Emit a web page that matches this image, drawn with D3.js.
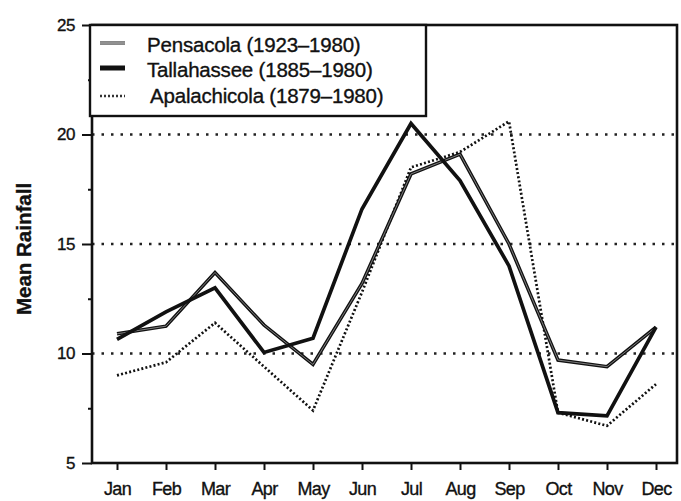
<!DOCTYPE html>
<html>
<head>
<meta charset="utf-8">
<script src="https://cdn.jsdelivr.net/npm/d3@7"></script>
<style>
  html, body { margin: 0; padding: 0; background: #fff; }
  svg { display: block; }
  text { font-family: "Liberation Sans", Arial, Helvetica, sans-serif; fill: #111; stroke: #111; stroke-width: 0.35px; }
</style>
</head>
<body>
<svg id="chart" width="681" height="501"></svg>
<script>
// Mean monthly rainfall at three Florida panhandle stations
const months = ["Jan", "Feb", "Mar", "Apr", "May", "Jun", "Jul", "Aug", "Sep", "Oct", "Nov", "Dec"];
const pensacola    = [10.9, 11.25, 13.7, 11.3, 9.5, 13.2, 18.2, 19.1, 15.0, 9.7, 9.4, 11.2];
const tallahassee  = [10.65, 11.9, 13.0, 10.05, 10.7, 16.6, 20.5, 17.9, 14.0, 7.3, 7.15, 11.2];
const apalachicola = [9.0, 9.6, 11.4, 9.4, 7.4, 12.8, 18.5, 19.2, 20.6, 7.3, 6.7, 8.6];
const seriesNames  = ["Pensacola (1923\u20131980)", "Tallahassee (1885\u20131980)", "Apalachicola (1879\u20131980)"];
const yMajorTicks  = [5, 10, 15, 20, 25];
const yMinorTicks  = [7.5, 12.5, 17.5, 22.5];
const gridValues   = [10, 15, 20];
const yTitle = "Mean Rainfall";

const svg = d3.select("#chart");
const frame = { left: 92, right: 677, top: 25, bottom: 463 };

const x = d3.scalePoint().domain(months).range([117, 656]);
const y = d3.scaleLinear().domain([5, 25]).range([frame.bottom, frame.top]);

// dotted reference lines
svg.append("g").selectAll("line").data(gridValues).join("line")
  .attr("x1", frame.left).attr("x2", frame.right)
  .attr("y1", d => y(d)).attr("y2", d => y(d))
  .attr("stroke", "#222").attr("stroke-width", 2.4)
  .attr("stroke-dasharray", "2.5,7");

// axes
const yAxis = svg.append("g").attr("transform", `translate(${frame.left},0)`)
  .call(d3.axisLeft(y).tickValues(yMajorTicks).tickSize(10).tickPadding(7).tickFormat(d3.format("d")));
yAxis.select(".domain").remove();
yAxis.selectAll("line").attr("stroke", "#111").attr("stroke-width", 2);
yAxis.selectAll("text").attr("font-size", 17).attr("fill", "#111").attr("letter-spacing", "-0.5");

const yMinor = svg.append("g").attr("transform", `translate(${frame.left},0)`)
  .call(d3.axisLeft(y).tickValues(yMinorTicks).tickSize(4).tickFormat(""));
yMinor.select(".domain").remove();
yMinor.selectAll("line").attr("stroke", "#111").attr("stroke-width", 2);

const xAxis = svg.append("g").attr("transform", `translate(0,${frame.bottom})`)
  .call(d3.axisBottom(x).tickSize(7).tickPadding(12));
xAxis.select(".domain").remove();
xAxis.selectAll("line").attr("stroke", "#111").attr("stroke-width", 2);
xAxis.selectAll("text").attr("font-size", 18).attr("fill", "#111").attr("letter-spacing", "-0.6");

// plot frame
svg.append("rect")
  .attr("x", frame.left).attr("y", frame.top)
  .attr("width", frame.right - frame.left).attr("height", frame.bottom - frame.top)
  .attr("fill", "none").attr("stroke", "#111").attr("stroke-width", 2.6);

// y title
svg.append("text")
  .attr("transform", `translate(31,${(frame.top + frame.bottom) / 2 + 5}) rotate(-90)`)
  .attr("text-anchor", "middle")
  .attr("font-size", 20.5).attr("font-weight", "bold")
  .text(yTitle);

const line = d3.line().x((d, i) => x(months[i])).y(d => y(d));

// Apalachicola: dotted
svg.append("path").datum(apalachicola)
  .attr("d", line).attr("fill", "none")
  .attr("stroke", "#111").attr("stroke-width", 2.7)
  .attr("stroke-dasharray", "2,2.2");

// Pensacola: hollow grey-cored line
svg.append("path").datum(pensacola)
  .attr("d", line).attr("fill", "none")
  .attr("stroke", "#111").attr("stroke-width", 3.5).attr("stroke-linejoin", "miter");
svg.append("path").datum(pensacola)
  .attr("d", line).attr("fill", "none")
  .attr("stroke", "#8a8a8a").attr("stroke-width", 0.9).attr("stroke-linejoin", "miter");

// Tallahassee: heavy black line
svg.append("path").datum(tallahassee)
  .attr("d", line).attr("fill", "none")
  .attr("stroke", "#111").attr("stroke-width", 3.7).attr("stroke-linejoin", "miter");

// legend
const legend = svg.append("g");
legend.append("rect")
  .attr("x", 90).attr("y", 25).attr("width", 336).attr("height", 91)
  .attr("fill", "#fff").attr("stroke", "#111").attr("stroke-width", 2.4);

const rows = [
  { name: seriesNames[0], ly: 43, ty: 52, tx: 147 },
  { name: seriesNames[1], ly: 68, ty: 77, tx: 147 },
  { name: seriesNames[2], ly: 96, ty: 103, tx: 150 }
];
// Pensacola sample
legend.append("line").attr("x1", 100).attr("x2", 125).attr("y1", rows[0].ly).attr("y2", rows[0].ly)
  .attr("stroke", "#555").attr("stroke-width", 3.4);
legend.append("line").attr("x1", 100).attr("x2", 125).attr("y1", rows[0].ly).attr("y2", rows[0].ly)
  .attr("stroke", "#bbb").attr("stroke-width", 1.2);
// Tallahassee sample
legend.append("line").attr("x1", 100).attr("x2", 125).attr("y1", rows[1].ly).attr("y2", rows[1].ly)
  .attr("stroke", "#111").attr("stroke-width", 5);
// Apalachicola sample
legend.append("line").attr("x1", 100).attr("x2", 125).attr("y1", rows[2].ly).attr("y2", rows[2].ly)
  .attr("stroke", "#333").attr("stroke-width", 2.6).attr("stroke-dasharray", "2,2");

legend.selectAll("text.lab").data(rows).join("text")
  .attr("class", "lab")
  .attr("x", d => d.tx).attr("y", d => d.ty)
  .attr("font-size", 20.5).attr("letter-spacing", "-0.2")
  .text(d => d.name);
</script>
</body>
</html>
